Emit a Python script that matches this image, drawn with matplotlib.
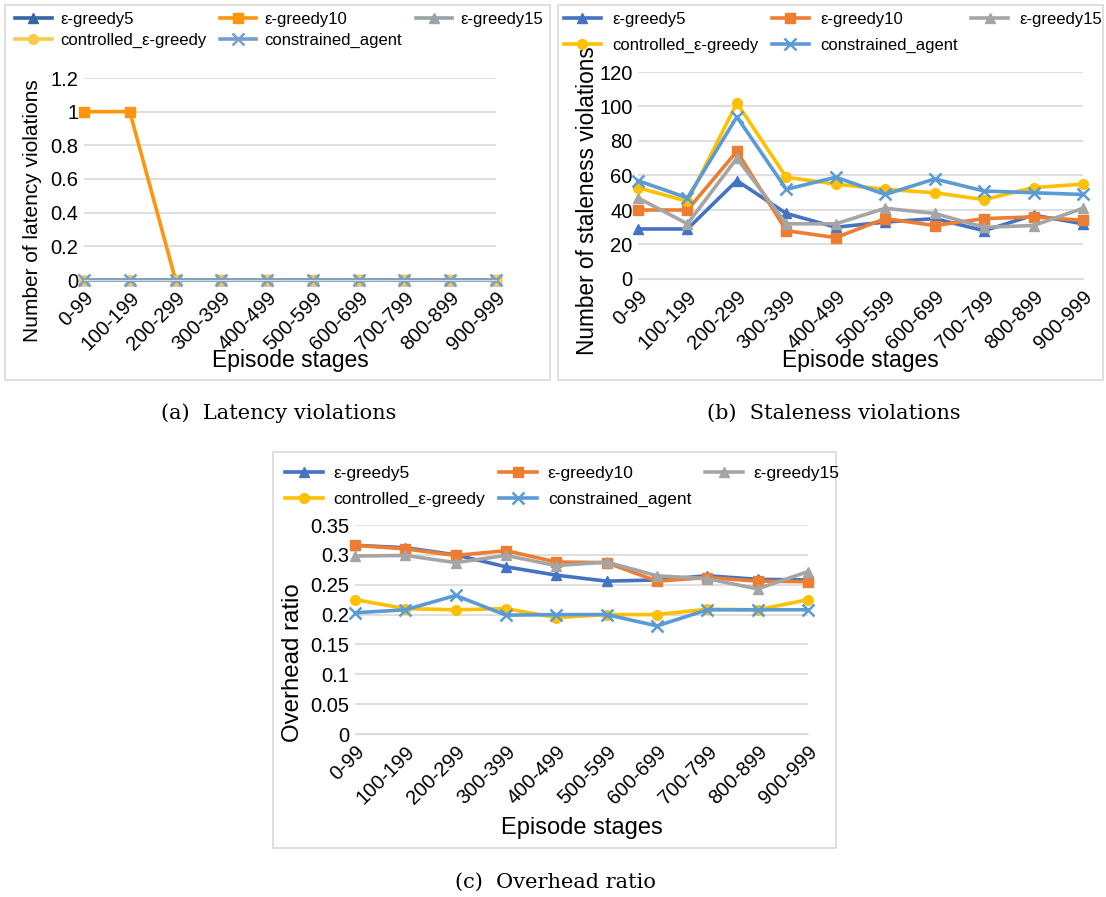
import matplotlib.pyplot as plt
from matplotlib.patches import Rectangle

# Data
stages = ['0-99', '100-199', '200-299', '300-399', '400-499',
          '500-599', '600-699', '700-799', '800-899', '900-999']
names = ['ε-greedy5', 'ε-greedy10', 'ε-greedy15',
         'controlled_ε-greedy', 'constrained_agent']

lat_g5 = [0, 0, 0, 0, 0, 0, 0, 0, 0, 0]
lat_g10 = [1, 1, 0, 0, 0, 0, 0, 0, 0, 0]
lat_g15 = [0, 0, 0, 0, 0, 0, 0, 0, 0, 0]
lat_ctrl = [0, 0, 0, 0, 0, 0, 0, 0, 0, 0]
lat_cons = [0, 0, 0, 0, 0, 0, 0, 0, 0, 0]

st_g5 = [29, 29, 57, 38, 30, 33, 35, 28, 37, 32]
st_g10 = [40, 40, 74, 28, 24, 35, 31, 35, 36, 34]
st_g15 = [47, 32, 70, 32, 32, 41, 38, 30, 31, 41]
st_ctrl = [53, 45, 102, 59, 55, 52, 50, 46, 53, 55]
st_cons = [57, 47, 94, 52, 59, 49, 58, 51, 50, 49]

ov_g5 = [0.316, 0.312, 0.300, 0.280, 0.266, 0.256, 0.258, 0.265, 0.259, 0.258]
ov_g10 = [0.316, 0.310, 0.299, 0.307, 0.288, 0.287, 0.256, 0.262, 0.256, 0.255]
ov_g15 = [0.298, 0.299, 0.287, 0.299, 0.282, 0.288, 0.265, 0.260, 0.243, 0.272]
ov_ctrl = [0.225, 0.210, 0.208, 0.210, 0.195, 0.200, 0.200, 0.209, 0.208, 0.225]
ov_cons = [0.203, 0.208, 0.232, 0.199, 0.200, 0.200, 0.181, 0.208, 0.208, 0.208]

markers = ['^', 's', '^', 'o', 'x']
colors_a = ['#3465A4', '#FF950E', '#95A5A6', '#F8CB4A', '#729FCF']
colors_bc = ['#4472C4', '#ED7D31', '#A5A5A5', '#FFC000', '#5B9BD5']

W, H = 1106, 897
fig = plt.figure(figsize=(W / 100, H / 100), dpi=100)
plt.rcParams['font.family'] = ['Liberation Sans', 'DejaVu Sans']


def px(x0, y0, x1, y1):
    # pixel box -> figure fraction [left, bottom, width, height]
    return [x0 / W, 1 - y1 / H, (x1 - x0) / W, (y1 - y0) / H]


def panel(box, axbox, series, colors, ymax, ystep, ylabel, ylab_xy, ylab_fs,
          xlab_y, xlab_fs, leg_xy, leg_fs, leg_sp, leg_pad, caption, cap_xy):
    fig.add_artist(Rectangle((box[0] / W, 1 - box[3] / H),
                             (box[2] - box[0]) / W, (box[3] - box[1]) / H,
                             transform=fig.transFigure, fill=False,
                             edgecolor='#D9D9D9', linewidth=1.2))
    ax = fig.add_axes(px(*axbox))
    x = range(len(stages))
    handles = []
    for vals, name, m, c in zip(series, names, markers, colors):
        h, = ax.plot(x, vals, color=c, marker=m, markersize=7 if m != 'x' else 8,
                     markeredgewidth=1.8 if m == 'x' else 1, linewidth=2.6,
                     label=name, clip_on=False)
        handles.append(h)
    ax.set_xlim(0, len(stages) - 1)
    ax.set_ylim(0, ymax)
    nt = int(round(ymax / ystep))
    ax.set_yticks([i * ystep for i in range(nt + 1)])
    ax.set_yticklabels(['%g' % round(i * ystep, 4) for i in range(nt + 1)])
    ax.set_xticks(list(x))
    ax.set_xticklabels(stages, rotation=45, ha='right', rotation_mode='anchor')
    ax.grid(axis='y', color='#D9D9D9', linewidth=1.2)
    ax.set_axisbelow(True)
    for s in ['top', 'right', 'left']:
        ax.spines[s].set_visible(False)
    ax.spines['bottom'].set_color('#D9D9D9')
    ax.tick_params(length=0, labelsize=14.5, pad=4)
    ax.tick_params(axis='x', pad=6)

    # axis titles placed by pixel centre
    x0, y0, x1, y1 = axbox
    ax.set_xlabel('Episode stages', fontsize=xlab_fs, va='center')
    ax.xaxis.set_label_coords(0.5, (y1 - xlab_y) / (y1 - y0))
    ax.set_ylabel(ylabel, fontsize=ylab_fs, va='center')
    ax.yaxis.set_label_coords((ylab_xy[0] - x0) / (x1 - x0),
                              (y1 - ylab_xy[1]) / (y1 - y0))

    order = [0, 3, 1, 4, 2]
    fig.legend([handles[i] for i in order], [names[i] for i in order],
               loc='upper left', bbox_to_anchor=(leg_xy[0] / W, 1 - leg_xy[1] / H),
               ncol=3, frameon=False, fontsize=leg_fs, handlelength=2.2,
               columnspacing=0.8, handletextpad=leg_pad, labelspacing=leg_sp,
               borderaxespad=0, borderpad=0)
    fig.text(cap_xy[0] / W, 1 - cap_xy[1] / H, caption, family='DejaVu Serif',
             fontsize=15, ha='center', va='center')
    return ax


panel((5, 5, 550, 380), (84, 78, 496, 280),
      [lat_g5, lat_g10, lat_g15, lat_ctrl, lat_cons], colors_a,
      1.2, 0.2, 'Number of latency violations', (33, 211), 15,
      360, 16.5, (15, 12), 12, 0.35, 0.5,
      '(a)  Latency violations', (279, 413))

panel((558, 5, 1103, 380), (638, 72, 1083, 279),
      [st_g5, st_g10, st_g15, st_ctrl, st_cons], colors_bc,
      120, 20, 'Number of staleness violations', (588, 201), 16.3,
      360, 16.5, (564, 12), 12, 0.65, 0.7,
      '(b)  Staleness violations', (834, 413))

panel((273, 452, 836, 848), (355, 525, 808, 734),
      [ov_g5, ov_g10, ov_g15, ov_ctrl, ov_cons], colors_bc,
      0.35, 0.05, 'Overhead ratio', (293, 663), 17.3,
      828, 17, (285, 466), 12.5, 0.6, 0.6,
      '(c)  Overhead ratio', (555, 882))

fig.savefig('out.png', dpi=100)
